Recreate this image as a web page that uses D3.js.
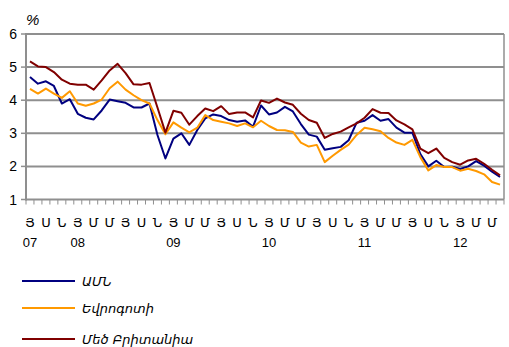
<!DOCTYPE html>
<html>
<head>
<meta charset="utf-8">
<script src="https://cdn.jsdelivr.net/npm/d3@7"></script>
<style>
  html, body { margin: 0; padding: 0; background: #fff; }
  svg { display: block; }
</style>
</head>
<body>
<svg id="chart" width="509" height="347"></svg>
<script>
// Monthly periods, Jul 2007 – Jun 2012
const periods = [
  "2007-07","2007-08","2007-09","2007-10","2007-11","2007-12",
  "2008-01","2008-02","2008-03","2008-04","2008-05","2008-06",
  "2008-07","2008-08","2008-09","2008-10","2008-11","2008-12",
  "2009-01","2009-02","2009-03","2009-04","2009-05","2009-06",
  "2009-07","2009-08","2009-09","2009-10","2009-11","2009-12",
  "2010-01","2010-02","2010-03","2010-04","2010-05","2010-06",
  "2010-07","2010-08","2010-09","2010-10","2010-11","2010-12",
  "2011-01","2011-02","2011-03","2011-04","2011-05","2011-06",
  "2011-07","2011-08","2011-09","2011-10","2011-11","2011-12",
  "2012-01","2012-02","2012-03","2012-04","2012-05","2012-06"
];

// Month initials shown every second month
const monthTicks = [
  ["2007-07","Յ"],["2007-09","Ս"],["2007-11","Ն"],
  ["2008-01","Յ"],["2008-03","Մ"],["2008-05","Մ"],["2008-07","Յ"],["2008-09","Ս"],["2008-11","Ն"],
  ["2009-01","Յ"],["2009-03","Մ"],["2009-05","Մ"],["2009-07","Յ"],["2009-09","Ս"],["2009-11","Ն"],
  ["2010-01","Յ"],["2010-03","Մ"],["2010-05","Մ"],["2010-07","Յ"],["2010-09","Ս"],["2010-11","Ն"],
  ["2011-01","Յ"],["2011-03","Մ"],["2011-05","Մ"],["2011-07","Յ"],["2011-09","Ս"],["2011-11","Ն"],
  ["2012-01","Յ"],["2012-03","Մ"],["2012-05","Մ"]
];

// Year labels
const yearTicks = [
  ["2007-07","07"],["2008-01","08"],["2009-01","09"],
  ["2010-01","10"],["2011-01","11"],["2012-01","12"]
];

const yTicks = [1, 2, 3, 4, 5, 6];

// 10-year government bond yields, %
const usa = [
  4.70,4.50,4.57,4.43,3.90,4.03,3.59,3.47,3.42,3.69,4.02,3.97,
  3.92,3.78,3.78,3.90,2.95,2.24,2.84,3.00,2.65,3.10,3.45,3.57,
  3.52,3.40,3.35,3.39,3.20,3.84,3.57,3.63,3.80,3.66,3.28,2.96,
  2.90,2.50,2.55,2.59,2.79,3.32,3.38,3.55,3.38,3.43,3.17,3.02,
  3.02,2.37,2.00,2.17,1.98,1.99,1.92,2.00,2.16,2.02,1.84,1.68
];
const eurozone = [
  4.34,4.20,4.35,4.20,4.07,4.27,3.90,3.83,3.90,4.02,4.36,4.56,
  4.32,4.15,4.00,3.90,3.40,2.97,3.33,3.17,3.03,3.17,3.55,3.40,
  3.35,3.30,3.22,3.30,3.18,3.38,3.22,3.10,3.09,3.04,2.72,2.60,
  2.65,2.13,2.32,2.50,2.66,2.95,3.17,3.12,3.06,2.86,2.72,2.65,
  2.80,2.28,1.88,2.04,1.98,1.98,1.87,1.93,1.86,1.76,1.53,1.45
];
const uk = [
  5.17,5.02,5.00,4.85,4.62,4.50,4.47,4.47,4.32,4.60,4.90,5.10,
  4.82,4.48,4.47,4.52,3.78,3.02,3.68,3.62,3.26,3.52,3.75,3.67,
  3.82,3.58,3.63,3.63,3.48,3.99,3.92,4.05,3.93,3.86,3.59,3.40,
  3.32,2.86,2.98,3.05,3.18,3.30,3.47,3.73,3.62,3.61,3.39,3.27,
  3.12,2.54,2.40,2.54,2.26,2.13,2.05,2.18,2.23,2.08,1.90,1.73
];

const seriesNames = ["ԱՄՆ", "Եվրոգոտի", "Մեծ Բրիտանիա"];
const seriesColors = ["#000080", "#FF9900", "#800000"];
const seriesValues = [usa, eurozone, uk];

const svg = d3.select("#chart");
const plot = { left: 26, right: 504, top: 34, bottom: 199.5 };
const gridColor = "#8f8f8f";

const x = d3.scaleBand().domain(periods).range([plot.left, plot.right]).padding(0);
const y = d3.scaleLinear().domain([1, 6]).range([plot.bottom, plot.top]);
const cx = p => x(p) + x.bandwidth() / 2;

// Horizontal gridlines
svg.append("g").selectAll("line").data(yTicks.filter(v => v > 1)).join("line")
  .attr("x1", plot.left).attr("x2", plot.right)
  .attr("y1", d => y(d)).attr("y2", d => y(d))
  .attr("stroke", gridColor).attr("stroke-width", 2);

// Right border of the plot area
svg.append("line")
  .attr("x1", plot.right).attr("x2", plot.right)
  .attr("y1", y(6)).attr("y2", y(1))
  .attr("stroke", gridColor).attr("stroke-width", 1.5);

// Category tick marks at band boundaries
const boundaries = periods.map(p => x(p)).concat([plot.right]);
svg.append("g").selectAll("line").data(boundaries).join("line")
  .attr("x1", d => d).attr("x2", d => d)
  .attr("y1", plot.bottom).attr("y2", plot.bottom + 5)
  .attr("stroke", gridColor).attr("stroke-width", 1);

// Axis lines
svg.append("line")
  .attr("x1", plot.left).attr("x2", plot.right)
  .attr("y1", plot.bottom).attr("y2", plot.bottom)
  .attr("stroke", gridColor).attr("stroke-width", 2);
svg.append("line")
  .attr("x1", plot.left).attr("x2", plot.left)
  .attr("y1", y(6) - 1).attr("y2", plot.bottom + 1)
  .attr("stroke", gridColor).attr("stroke-width", 2);

// Y-axis ticks and labels
svg.append("g").selectAll("line").data(yTicks).join("line")
  .attr("x1", plot.left - 5).attr("x2", plot.left)
  .attr("y1", d => y(d)).attr("y2", d => y(d))
  .attr("stroke", gridColor).attr("stroke-width", 1.5);
svg.append("g").selectAll("text").data(yTicks).join("text")
  .attr("x", 17).attr("y", d => y(d) + 5)
  .attr("text-anchor", "end")
  .attr("font-family", "Liberation Sans, Arial, sans-serif")
  .attr("font-size", 14)
  .attr("fill", "#000")
  .text(d => d);

svg.append("text")
  .attr("x", 26).attr("y", 25)
  .attr("font-family", "Liberation Sans, Arial, sans-serif")
  .attr("font-size", 15).attr("font-style", "italic")
  .text("%");

// Month initials and years
svg.append("g").selectAll("text").data(monthTicks).join("text")
  .attr("x", d => cx(d[0])).attr("y", 227)
  .attr("text-anchor", "middle")
  .attr("font-family", "DejaVu Sans, sans-serif")
  .attr("font-size", 13)
  .text(d => d[1]);
svg.append("g").selectAll("text").data(yearTicks).join("text")
  .attr("x", d => cx(d[0])).attr("y", 247)
  .attr("text-anchor", "middle")
  .attr("font-family", "Liberation Sans, Arial, sans-serif")
  .attr("font-size", 13)
  .text(d => d[1]);

// Series lines
const line = d3.line().x((d, i) => cx(periods[i])).y(d => y(d));
svg.append("g").selectAll("path").data(seriesValues).join("path")
  .attr("d", d => line(d))
  .attr("fill", "none")
  .attr("stroke", (d, i) => seriesColors[i])
  .attr("stroke-width", 2)
  .attr("stroke-linejoin", "round");

// Legend
const legendY = [281, 308, 339];
const legend = svg.append("g").selectAll("g").data(seriesNames).join("g")
  .attr("transform", (d, i) => `translate(0,${legendY[i]})`);
legend.append("line")
  .attr("x1", 22).attr("x2", 75).attr("y1", 0).attr("y2", 0)
  .attr("stroke", (d, i) => seriesColors[i]).attr("stroke-width", 2);
legend.append("text")
  .attr("x", 82).attr("y", 5)
  .attr("font-family", "DejaVu Sans, sans-serif")
  .attr("font-size", 13).attr("font-style", "italic")
  .text(d => d);
</script>
</body>
</html>
